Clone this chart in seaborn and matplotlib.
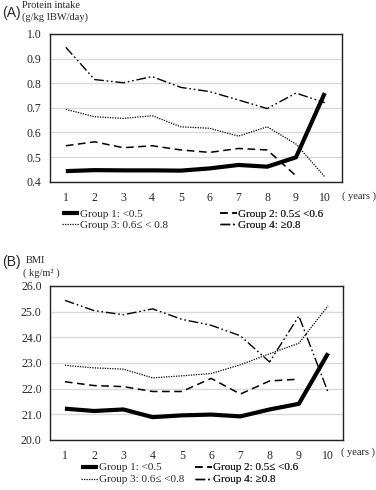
import numpy as np
import pandas as pd
import matplotlib
matplotlib.use('Agg')
import matplotlib.pyplot as plt
import seaborn as sns

years = list(range(1, 11))

# panel A: protein intake (g/kg IBW/day)
prot_g1 = [0.443, 0.447, 0.446, 0.446, 0.445, 0.454, 0.468, 0.461, 0.499, 0.760]
prot_g2 = [0.546, 0.562, 0.538, 0.546, 0.529, 0.519, 0.535, 0.529, 0.424, np.nan]
prot_g3 = [0.694, 0.664, 0.657, 0.668, 0.623, 0.617, 0.585, 0.623, 0.553, 0.420]
prot_g4 = [0.946, 0.815, 0.802, 0.827, 0.783, 0.766, 0.732, 0.697, 0.760, 0.721]

# panel B: BMI (kg/m2)
bmi_g1 = [21.22, 21.13, 21.19, 20.89, 20.96, 20.99, 20.92, 21.19, 21.41, 23.38]
bmi_g2 = [22.27, 22.12, 22.08, 21.89, 21.89, 22.40, 21.79, 22.30, 22.37, np.nan]
bmi_g3 = [22.91, 22.81, 22.76, 22.42, 22.50, 22.59, 22.93, 23.36, 23.77, 25.23]
bmi_g4 = [25.44, 25.04, 24.88, 25.11, 24.70, 24.47, 24.06, 23.04, 24.83, 21.86]

labels_a = ['Group 1: <0.5', 'Group 2: 0.5\u2264 <0.6', 'Group 3: 0.6\u2264 < 0.8', 'Group 4: \u22650.8']
labels_b = ['Group 1: <0.5', 'Group 2: 0.5\u2264 <0.6', 'Group 3: 0.6\u2264 <0.8', 'Group 4: \u22650.8']

styles = [
    dict(lw=3.0, ls='-'),
    dict(lw=1.1, ls=(0, (5, 3))),
    dict(lw=0.9, ls=(0, (1, 1))),
    dict(lw=1.0, ls=(0, (7, 2, 1.2, 2, 1.2, 2))),
]

sns.set_style('white')
plt.rcParams['font.family'] = ['Liberation Serif', 'DejaVu Serif']

W, H = 376, 490
fig = plt.figure(figsize=(W / 100, H / 100), dpi=100)
ax_a = fig.add_axes([50/W, 1-181.7/H, 292/W, 147.7/H])
ax_b = fig.add_axes([50/W, 1-440/H, 293/W, 154/H])


def draw(ax, series, labels, yticks, xlim):
    for vals, lab, st in zip(series, labels, styles):
        df = pd.DataFrame({'year': years, 'val': vals}).dropna()
        sns.lineplot(data=df, x='year', y='val', ax=ax, color='black',
                     linewidth=st['lw'], linestyle=st['ls'], label=lab,
                     legend=False, solid_capstyle='butt')
    ax.set_ylim(yticks[0], yticks[-1])
    ax.set_yticks(yticks)
    ax.set_yticklabels(['{:.1f}'.format(v) for v in yticks], fontsize=8.5)
    ax.set_xlim(*xlim)
    ax.set_xticks(years)
    ax.set_xticklabels([str(y) for y in years], fontsize=8.5)
    ax.set_xlabel('')
    ax.set_ylabel('')
    ax.grid(axis='y', color='#d9d9d9', lw=1.0)
    ax.set_axisbelow(True)
    ax.tick_params(axis='x', length=0, pad=7.5)
    ax.tick_params(axis='y', length=0, pad=6)
    for s in ax.spines.values():
        s.set_color('#222222')
        s.set_linewidth(1.0)


def legend_cols(ax, xs, y_mid, spacing):
    h, l = ax.get_legend_handles_labels()
    for k, x in enumerate(xs):
        leg = ax.legend([h[k], h[k + 2]], [l[k], l[k + 2]], loc='center left',
                        bbox_to_anchor=(x / W, 1 - y_mid / H),
                        bbox_transform=fig.transFigure, frameon=False,
                        fontsize=8, handlelength=1.5, handletextpad=0.15,
                        labelspacing=spacing, borderaxespad=0, borderpad=0)
        ax.add_artist(leg)


draw(ax_a, [prot_g1, prot_g2, prot_g3, prot_g4], labels_a,
     [0.4, 0.5, 0.6, 0.7, 0.8, 0.9, 1.0], (0.45, 10.6))
draw(ax_b, [bmi_g1, bmi_g2, bmi_g3, bmi_g4], labels_b,
     [20, 21, 22, 23, 24, 25, 26], (0.49, 10.51))

legend_cols(ax_a, [62, 220], 219.5, 0.08)
legend_cols(ax_b, [81, 195], 473.5, 0.2)

fig.text(342/W, 1-196/H, '( years )', fontsize=7.5, va='center')
fig.text(341/W, 1-452/H, '( years )', fontsize=7.5, va='center')

fig.text(2/W, 1-13/H, '(A)', family='Liberation Sans', fontsize=10, va='center')
fig.text(22/W, 1-5/H, 'Protein intake', fontsize=7.5, va='center')
fig.text(22/W, 1-17/H, '(g/kg IBW/day)', fontsize=7.5, va='center')
fig.text(2/W, 1-262/H, '(B)', family='Liberation Sans', fontsize=10, va='center')
fig.text(26/W, 1-260/H, 'BMI', fontsize=7.5, va='center')
fig.text(23/W, 1-273/H, '( kg/m\u00b2 )', fontsize=7.5, va='center')

fig.savefig('out.png', dpi=100)
